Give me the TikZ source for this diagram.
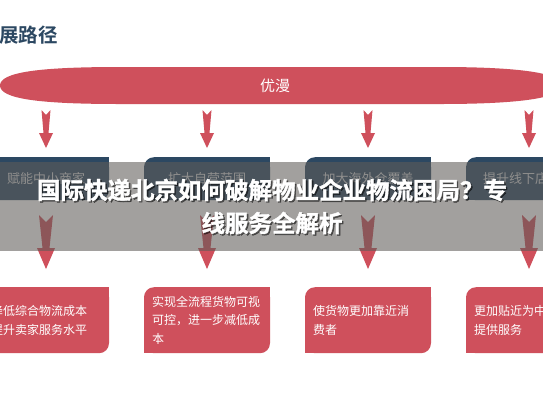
\documentclass[tikz,border=0pt]{standalone}
\usepackage{fontspec}
\newfontfamily\cjk{Noto Sans CJK SC}[BoldFont={Noto Sans CJK SC Bold}]
\newfontfamily\cjkheavy{Noto Sans CJK SC}[BoldFont={Noto Sans CJK SC Bold}, BoldFeatures={FakeBold=1.6}]
\usetikzlibrary{calc}
\definecolor{brandred}{RGB}{207,80,92}
\definecolor{navy}{RGB}{44,72,98}
\definecolor{veil}{RGB}{95,92,88}
\definecolor{boxtxt}{RGB}{212,214,217}
\tikzset{
  redbox/.style={fill=brandred, text=white, minimum width=126pt, minimum height=66pt,
    text width=110pt, inner xsep=8pt, inner ysep=0pt, align=left,
    font=\cjk\fontsize{12}{18.5}\selectfont, rounded corners=10pt, anchor=north},
  navybox/.style={fill=navy, text=boxtxt, minimum width=126pt, minimum height=43pt,
    inner sep=0pt, font=\cjk\fontsize{13}{15}\selectfont, rounded corners=10pt, anchor=north},
  smallarrow/.pic={\fill[brandred] (0,0) -- (7,-15) -- (2.5,-15) -- (4.5,-38) -- (0,-33)
    -- (-4.5,-38) -- (-2.5,-15) -- (-7,-15) -- cycle;},
  bigarrow/.pic={\fill[brandred] (0,0) -- (9,-21) -- (3.5,-21) -- (7,-54) -- (0,-47)
    -- (-7,-54) -- (-3.5,-21) -- (-9,-21) -- cycle;},
  headline/.style={text=white, font=\cjkheavy\bfseries\fontsize{23.5}{25}\selectfont, inner sep=0pt},
  headshadow/.style={text=black, opacity=0.5, font=\cjkheavy\bfseries\fontsize{23.5}{25}\selectfont, inner sep=0pt},
}
\begin{document}
\begin{tikzpicture}[x=1pt,y=-1pt]
\useasboundingbox (0,0) rectangle (543,408);
\fill[white] (0,0) rectangle (543,408);
% header
\node[anchor=west, text=navy, font=\cjk\bfseries\fontsize{19.5}{20}\selectfont, inner sep=0pt] (hdr) at (-1,35) {展路径};
% band
\fill[brandred] (0,85.5) .. controls (0,72) and (40,67) .. (120,67) -- (440,67)
  .. controls (520,67) and (562,73) .. (562,85.5) .. controls (562,98) and (520,104) .. (440,104)
  -- (120,104) .. controls (40,104) and (0,99) .. (0,85.5) -- cycle;
\node[text=white, font=\cjk\fontsize{15}{16}\selectfont, inner sep=0pt] (band) at (275,85.5) {优漫};
% navy boxes
\node[navybox] (d1) at (46,157) {赋能中小商家};
\node[navybox] (d2) at (207,157) {扩大自营范围};
\node[navybox] (d3) at (368,157) {加大海外仓覆盖};
\node[navybox] (d4) at (529,157) {};
\node[text=boxtxt, font=\cjk\fontsize{13}{15}\selectfont, inner sep=0pt, anchor=west] (d4t) at (483,178.5) {提升线下店};
\foreach \n in {d1,d2,d3,d4}{
  \fill[navy] (\n.north east) rectangle ++(-12,12);
  \fill[navy] (\n.south west) rectangle ++(12,-12);
}
% red boxes
\node[redbox] (r1) at (46,287) {降低综合物流成本\\提升卖家服务水平};
\node[redbox] (r2) at (207,287) {实现全流程货物可视\\可控，进一步减低成\\本};
\node[redbox] (r3) at (368,287) {使货物更加靠近消\\费者};
\node[redbox] (r4) at (529,287) {更加贴近为中\\提供服务};
\foreach \n in {r1,r2,r3,r4}{
  \fill[brandred] (\n.north east) rectangle ++(-12,12);
  \fill[brandred] (\n.south west) rectangle ++(12,-12);
}
% arrows
\foreach \n in {d1,d2,d3,d4}{ \pic at ($(\n.north)+(0,-9)$) {smallarrow}; }
\foreach \n in {r1,r2,r3,r4}{ \pic at ($(\n.north)+(0,-18)$) {bigarrow}; }
% veil
\fill[veil, opacity=0.58] (0,162) rectangle (543,251);
% headline
\node[headshadow] (s1) at (273.4,191.4) {国际快递北京如何破解物业企业物流困局？专};
\node[headshadow] (s2) at (273.4,224.4) {线服务全解析};
\node[headline] (t1) at (272,190) {国际快递北京如何破解物业企业物流困局？专};
\node[headline] (t2) at (272,223) {线服务全解析};
\end{tikzpicture}
\end{document}
